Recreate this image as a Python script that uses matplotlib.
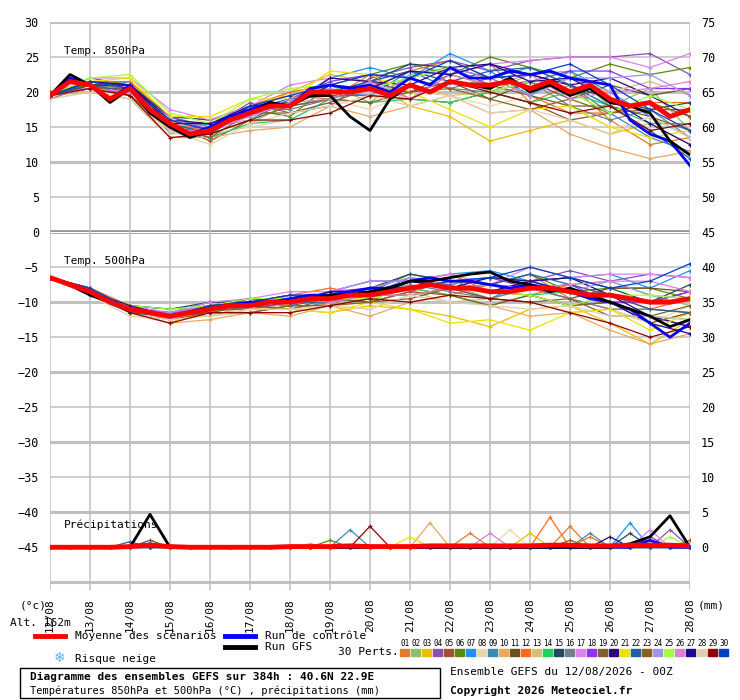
import numpy as np
import matplotlib
matplotlib.use('Agg')
import matplotlib.pyplot as plt
from matplotlib.lines import Line2D
from matplotlib.patches import Rectangle

plt.rcParams['font.family'] = ['DejaVu Sans Mono']

# Data: 12h steps from 12/08 00z to 28/08 00z
dates = ['12/08', '13/08', '14/08', '15/08', '16/08', '17/08', '18/08', '19/08', '20/08',
         '21/08', '22/08', '23/08', '24/08', '25/08', '26/08', '27/08', '28/08']

mean850 = [19.5, 21.5, 21, 19, 20.5, 17.5, 15.5, 14, 14.5, 16, 17, 18, 18, 20, 20, 20, 20.5,
           19.5, 21, 20, 21.5, 21, 21, 21.5, 20.5, 21.5, 20, 21, 19, 18, 18.5, 16.5, 17.5]
ctrl850 = [19.5, 22, 21, 19, 21, 17, 15.5, 14, 15, 16.5, 17.5, 18.5, 18, 20.5, 21, 20.5, 21,
           20, 22, 21, 23.5, 22, 22, 23, 22.5, 23, 22, 21.5, 21, 16, 14, 13, 9.5]
gfs850 = [19.5, 22.5, 21, 18.5, 20.5, 17, 15, 13.5, 14.5, 16, 17, 18.5, 18, 19.5, 19.5, 16.5, 14.5,
          19, 21, 20, 21.5, 21, 20.5, 22, 20, 21, 19.5, 20.5, 18.5, 18, 17, 13, 11]

mean500 = [-6.5, -7.5, -8.5, -10, -11, -11.5, -12, -11.5, -11, -10.5, -10.5, -10, -10, -9.5, -9.5, -9, -9,
           -8.5, -8, -7.5, -8, -8, -8.5, -8.5, -8, -8, -8.5, -9, -9, -9.5, -10, -10, -9.5]
ctrl500 = [-6.5, -7.5, -8.5, -10, -11, -11.5, -12, -11.5, -11, -10.5, -10, -10, -9.5, -9, -9, -8.5, -8,
           -8, -7, -6.5, -7, -7, -7.5, -8, -7.5, -8, -8.5, -9.5, -10, -11, -13, -15, -13]
gfs500 = [-6.5, -7.5, -9, -10, -11, -11.5, -12, -11.5, -11, -10.5, -10.5, -10, -10, -9.5, -9, -9, -8.5,
          -8, -7, -7, -6.5, -6, -5.7, -7, -7.5, -8.5, -8, -9, -10, -11, -12, -13.5, -12.5]

dev850 = [
    [0, -0.5, 0.5, -1, 0.5, 1, 1.5, -1, 2, -2, 1, 3, -2, 1, -3, -6, -4],
    [0, 0.5, -0.5, 0.5, -1, -1.5, 0.5, 1, -2, 1.5, 2, -1, 2, 3, -1, 2, -3],
    [-0.5, 0, 1, 1, 1.5, 0, 2, 2.5, 1, -3, -5, -8, -6, -4, -5, -3, -5],
    [0, 0.5, 0, -0.5, 0.5, 1.5, -1, -2, 1.5, 2.5, 3, 2, 4, 5, 6, 7, 5],
    [0.5, -0.5, -1, 0, -1.5, -1, 1, -0.5, -1, -2, -3, -1, -2, -4, -2, -1, 0],
    [0, 1, 0.5, 1, 0, 0.5, -1.5, 1, 2, 3, 1, 4, 3, 2, 5, 4, 6],
    [0, -0.5, 1, -1.5, 1, -0.5, 0.5, 2, 3, 1, 4, 2, -1, 3, 1, -2, -4],
    [-0.5, -1, -1, -1.5, -0.5, -2, -2, -1, -3, -1, -2, -3, -1, -2, -4, -3, -2],
    [0, 0.5, 0, 1, 0.5, -1, 1, 0, -1, 2, -1, 1, 3, 1, -2, -5, -6],
    [0, -1, -1.5, -2, -1, -2.5, -3, -2, -4, -3, -2, -4, -3, -6, -7, -8, -6],
    [0.5, 0, 0.5, 0, 1, 0.5, 0, -1, 1, -1, 0, -2, 1, -1, 2, 1, 3],
    [0, 0.5, 1, 0.5, -0.5, 1, 2, 1, 0, 2, 3, 1, -1, -3, -2, 0, 1],
    [0, -0.5, -0.5, 0, 0.5, -1, 0, 1, -1, 0, -2, -1, 0, 2, 1, 3, 2],
    [0, 0, -1, -0.5, -1, -1.5, -2, -1, -2, -2, -3, -1, -2, 0, -1, -3, -2],
    [0, 0.5, 0.5, 1, 1.5, 1, 0.5, 0, 1, 3, 2, 1, 2, 1, 0, -1, 1],
    [-0.5, 0, 0, -1, 0, 0.5, -0.5, -1, 0, 1, -1, -1, 1, -2, -3, -1, -4],
    [0, 1, 1.5, 2, 1.5, 1, 3, 2, 1, 2, 1, 3, 4, 5, 6, 5, 8],
    [0, 0.5, 0, 1, 0, 0.5, 1, 1.5, 2, 1, 2, 0, 1, 3, 4, 2, 3],
    [0, -0.5, 0, -0.5, -1, 0, -1, -1.5, 0, -1, 1, 0, -1, -2, -1, -2, -3],
    [0, 0, 0.5, 0.5, 1, 1, 0, 2, 1, 0, 2, 3, 2, 1, 3, 1, -1],
    [0, 0.5, 1.5, 1, 2, 2, 1, 3, 2, -1, -4, -6, -3, -2, -4, -5, -3],
    [0, 0, -0.5, 0, -0.5, 0.5, 1, 0, 1, 2, 0, 2, 3, 1, -1, -4, -7],
    [0.5, 0, -1, -1, -0.5, -1, 0, -1, -2, -1, -1, -2, -3, -1, -2, 0, -1],
    [0, 0.5, 0, 0.5, 0.5, 0, 1, 0.5, -1, 1, 2, 1, -1, 2, 3, 4, 2],
    [0, 1, 2, 1.5, 1, 2, 2.5, 1, 0, 1, 2, -1, 1, 0, -2, 1, 0],
    [0, -0.5, -0.5, -1, 0, -0.5, 0.5, -1, 1, -2, 1, 0, 2, -1, 1, 2, 4],
    [0, 0.5, 0.5, 0, 1, 0.5, 0, 1, 0, 2, 1, 3, 1, 2, 0, -3, -5],
    [-0.5, -1, -1.5, -1, -2, -1.5, -1, -2, -1, -3, -2, -4, -3, -4, -5, -2, -4],
    [0, -0.5, -1, -2, -0.5, -1, -2, -3, -1, -2, 0, -1, -2, -3, -1, -4, -2],
    [0, 0.5, 0, 0.5, 0, 1, 1.5, 1, 2, 1, 3, 1, 2, 4, 2, -1, -3],
]

dev500 = [
    [0, 0, 0.5, -0.5, 0, 1, 0.5, -1, 1, 0, -1, 1, 2, -1, -2, -3, -2],
    [0, -0.5, 0, 0.5, -1, 0, 1, 0.5, -1, 1, 0.5, -1, 0, 1, 2, 1, -1],
    [0, 0, -0.5, -1, 0.5, -0.5, -1, -2, -1.5, -3, -4, -5, -3, -2, -4, -6, -3],
    [0, 0.5, 0, 0.5, 1, 0.5, 0, 1, 2, 1, 0.5, 2, 1, 3, 2, 4, 3],
    [0, 0, 0.5, 0, -0.5, -1, -0.5, 0, -1, -0.5, 1, 0, -1, -2, -1, 0, 1],
    [0, -0.5, 0, -0.5, 0, 0.5, 1, 0, 0.5, 2, 1, 1, 2, 0, 1, 2, 0],
    [0, 0, 0.5, 1, 0.5, 0, -0.5, 1, 2, 1, 2, 3, 1, 2, 3, 2, 4],
    [0, -0.5, -0.5, 0, -1, -1, -1.5, -1, -2, -1, -2, -1, 0, -1, -2, -3, -1],
    [0, 0.5, 0, 0.5, 0, -0.5, 0, 1, 0, 1.5, 0, -1, 1, 0, -1, -2, -4],
    [0, 0, -0.5, -1, -1.5, -1, -2, -1, -3, -2, -1, -2, -4, -3, -5, -6, -5],
    [0, 0, 0, 0.5, 0.5, 0, 0.5, -0.5, 0, -1, 0, 1, 0, -1, 1, 2, 1],
    [0, 0.5, 0.5, 0, -0.5, 0.5, 1, 1.5, 0, 1, 2, 0, -1, 1, 0, -1, 0],
    [0, 0, -0.5, -0.5, 0, -1, 0, 0.5, -1, -0.5, -2, -1, -2, -3, -2, -1, -2],
    [0, -0.5, 0, 0, -0.5, 0.5, -0.5, -1, -0.5, 0, -1, -2, -1, 0, -1, -2, -3],
    [0, 0, 0.5, 1, 1, 0.5, 1, 0, 1, 2, 1, 0, 1, 2, 1, 0, 2],
    [0, 0.5, 0, -0.5, 0, 0, -1, -0.5, 0, 0.5, -0.5, -1, 0, -1, -2, -1, -2],
    [0, 0, 0.5, 0.5, 1, 1, 1.5, 1, 2, 1, 2, 1, 3, 2, 3, 4, 3],
    [0, -0.5, 0, 0.5, 0, -0.5, 0, 1, 1, 0, 1, 2, 0, 1, -1, 0, 1],
    [0, 0, -0.5, 0, -0.5, 0, -1, 0, -1, -1.5, 0, -1, -2, -1, -3, -2, -1],
    [0, 0.5, 0, 0, 0.5, 1, 0, 0.5, 1, 0, 1, 0, 1, 2, 0, -2, -4],
    [0, 0, 0.5, 0, -1, -0.5, -1, -2, -1, -3, -5, -4, -6, -3, -2, -4, -2],
    [0, -0.5, -0.5, 0, 0, 0.5, 0, -0.5, 0.5, 1, 0, 1, 2, 1, 0, -1, -2],
    [0, 0, 0, -0.5, -0.5, -1, -0.5, -1, -1, -0.5, -1, -2, -1, -2, -1, -3, -2],
    [0, 0.5, 0, 0.5, 0.5, 0, 1, 0.5, 1, 1.5, 1, 2, 1, 0, 2, 1, 0],
    [0, 0, 0.5, 1, 0.5, 1, 0.5, 0, -0.5, 0, 1, 0, -1, -2, 0, 1, 0],
    [0, -0.5, 0, -0.5, 0, 0, 0.5, -0.5, 0, -1, 0, 1, 0, 1, 2, 3, 1],
    [0, 0, 0.5, 0, 0.5, 0.5, 0, 1, 0.5, 1, 0, 2, 1, 0, -1, -3, -5],
    [0, -0.5, -1, -0.5, -1, -0.5, -1, -1, -2, -1, -2, -2, -3, -2, -3, -2, -3],
    [0, 0, -0.5, -1, -0.5, -1, -1.5, -1, -0.5, -2, -1, -1, -2, -3, -4, -5, -4],
    [0, 0.5, 0, 0, 0.5, 0.5, 1, 0.5, 1, 0, 1, 2, 3, 2, 1, 3, 5],
]

# precipitation spikes per member: (member, 12h step, mm)
precip_spikes = [(29, 16, 3.0), (9, 15, 2.5), (10, 19, 3.5), (1, 21, 2), (21, 18, 1.5), (12, 25, 4.3),
                 (1, 26, 3), (12, 27, 1.5), (9, 27, 2), (7, 29, 3.5), (17, 30, 2.5), (4, 31, 2.5),
                 (3, 24, 2), (20, 28, 1.5), (26, 22, 2), (6, 14, 1), (11, 5, 1.0), (22, 4, 0.8),
                 (8, 23, 2.5), (25, 31, 1.5), (5, 32, 1), (2, 13, 0.5), (15, 29, 2), (18, 30, 1.5),
                 (23, 26, 1)]
precip_mean = [0, 0, 0, 0, 0.1, 0.3, 0.1, 0, 0, 0, 0, 0, 0.1, 0.1, 0.1, 0.2, 0.1,
               0.1, 0.1, 0.2, 0.2, 0.2, 0.2, 0.2, 0.2, 0.3, 0.3, 0.2, 0.2, 0.3, 0.3, 0.3, 0.2]
precip_ctrl = [0, 0, 0, 0, 0, 0.5, 0, 0, 0, 0, 0, 0, 0, 0, 0, 0, 0,
               0, 0, 0, 0, 0, 0, 0, 0, 0, 0, 0, 0, 0, 1.0, 0, 0]
precip_gfs = [0, 0, 0, 0, 0, 4.7, 0, 0, 0, 0, 0, 0, 0, 0, 0, 0, 0,
              0, 0, 0, 0, 0, 0, 0, 0, 0, 0, 0, 0, 0.5, 1.5, 4.5, 0]

member_colors = ['#e07b30', '#8ac06a', '#e8c000', '#8a4fb0', '#a0522d', '#5a8a10', '#1e90ff', '#e8d8b0',
                 '#3a8ab8', '#e8a860', '#6b5020', '#ff6a20', '#d0c080', '#20d060', '#204860', '#708090',
                 '#e080f0', '#9030f0', '#806030', '#300878', '#f0e000', '#2060a0', '#8a6020', '#a090f0',
                 '#a0ff40', '#e080d0', '#200890', '#e0d0b0', '#900000', '#0040c0']

W, H = 740, 700
fig = plt.figure(figsize=(7.4, 7.0), dpi=100)
ax = fig.add_axes([50 / W, 1 - 590 / H, 640 / W, 568 / H])

t12 = np.arange(33) * 0.5
t24 = np.arange(17)

ax.set_xlim(0, 16)
ax.set_ylim(-51.1, 30)
for v in range(-50, 31, 5):
    if v == 0:
        ax.axhline(v, color='#909090', lw=2.6, zorder=0)
        ax.axhline(v, color='#ffffff', lw=0.8, zorder=0)
    else:
        ax.axhline(v, color='#c0c0c0', lw=2.2 if v % 10 == 0 else 1.1, zorder=0)
for d in range(17):
    ax.axvline(d, color='#c0c0c0', lw=1.1, zorder=0)

# ensemble members
m850 = np.array(mean850)[::2]
m500 = np.array(mean500)[::2]
for i in range(30):
    c = member_colors[i]
    ax.plot(t24, m850 + np.array(dev850[i]), color=c, lw=0.9, marker='+', ms=3, mew=0.8, zorder=2)
    ax.plot(t24, m500 + np.array(dev500[i]), color=c, lw=0.9, marker='+', ms=3, mew=0.8, zorder=2)
    pr = np.zeros(33)
    for m, s, v in precip_spikes:
        if m == i + 1:
            pr[s] = v
    ax.plot(t12, pr - 45, color=c, lw=0.9, marker='+', ms=3, mew=0.8, zorder=2)

ax.plot(t12, ctrl850, color='#0000ff', lw=2, zorder=3)
ax.plot(t12, gfs850, color='black', lw=2, zorder=3)
ax.plot(t12, mean850, color='#ff0000', lw=3.5, zorder=4)
ax.plot(t12, ctrl500, color='#0000ff', lw=2, zorder=3)
ax.plot(t12, gfs500, color='black', lw=2, zorder=3)
ax.plot(t12, mean500, color='#ff0000', lw=3.5, zorder=4)
ax.plot(t12, np.array(precip_ctrl) - 45, color='#0000ff', lw=2, zorder=3)
ax.plot(t12, np.array(precip_gfs) - 45, color='black', lw=2, zorder=3)
ax.plot(t12, np.array(precip_mean) - 45, color='#ff0000', lw=3.5, zorder=4)

ax.set_yticks(range(-45, 31, 5))
ax.set_xticks([])
ax.tick_params(axis='y', length=0, labelsize=8.5, pad=8)
for s in ax.spines.values():
    s.set_visible(False)
ax2 = ax.twinx()
ax2.set_ylim(ax.get_ylim())
ax2.set_yticks(range(-45, 31, 5))
ax2.set_yticklabels([str(v + 45) for v in range(-45, 31, 5)])
ax2.tick_params(axis='y', length=0, labelsize=8.5, pad=8)
for s in ax2.spines.values():
    s.set_visible(False)

ax.text(0.35, 25.5, 'Temp. 850hPa', fontsize=8)
ax.text(0.35, -4.5, 'Temp. 500hPa', fontsize=8)
ax.text(0.35, -42.3, 'Précipitations', fontsize=8)

fs = 8
def ftext(x, y, s, **kw):
    fig.text(x / W, 1 - y / H, s, fontsize=kw.pop('size', fs), va='center', **kw)

for d, lab in enumerate(dates):
    fig.text((50 + 40 * d) / W, 1 - 598 / H, lab, rotation=90, fontsize=fs, ha='center', va='top')
ftext(20, 606, '(°c)')
ftext(698, 606, '(mm)')
ftext(10, 623, 'Alt. 162m')

fig.add_artist(Line2D([35 / W, 65 / W], [1 - 636 / H] * 2, color='#ff0000', lw=3.5))
ftext(75, 636, 'Moyenne des scénarios')
fig.add_artist(Line2D([225 / W, 255 / W], [1 - 636 / H] * 2, color='#0000ff', lw=3.5))
ftext(265, 636, 'Run de contrôle')
fig.add_artist(Line2D([225 / W, 255 / W], [1 - 647 / H] * 2, color='black', lw=3.5))
ftext(265, 647, 'Run GFS')
ftext(60, 658, '❄', color='#60b0f0', ha='center', size=10, family=['DejaVu Sans'])
ftext(75, 659, 'Risque neige')
ftext(338, 652, '30 Perts.')
for i, c in enumerate(member_colors):
    x = 400 + 11 * i
    fig.text((x + 5) / W, 1 - 643 / H, '%02d' % (i + 1), fontsize=5.5, ha='center', va='center')
    fig.add_artist(Rectangle((x / W, 1 - 656 / H), 9 / W, 7 / H, color=c))

fig.add_artist(Rectangle((20 / W, 1 - 698 / H), 420 / W, 30 / H, fill=False, ec='black', lw=1))
ftext(30, 677, 'Diagramme des ensembles GEFS sur 384h : 40.6N 22.9E', weight='bold')
ftext(30, 691, 'Températures 850hPa et 500hPa (°C) , précipitations (mm)', size=7.5)
ftext(450, 672, 'Ensemble GEFS du 12/08/2026 - 00Z')
ftext(450, 691, 'Copyright 2026 Meteociel.fr', weight='bold')

fig.savefig('out.png', dpi=100)
